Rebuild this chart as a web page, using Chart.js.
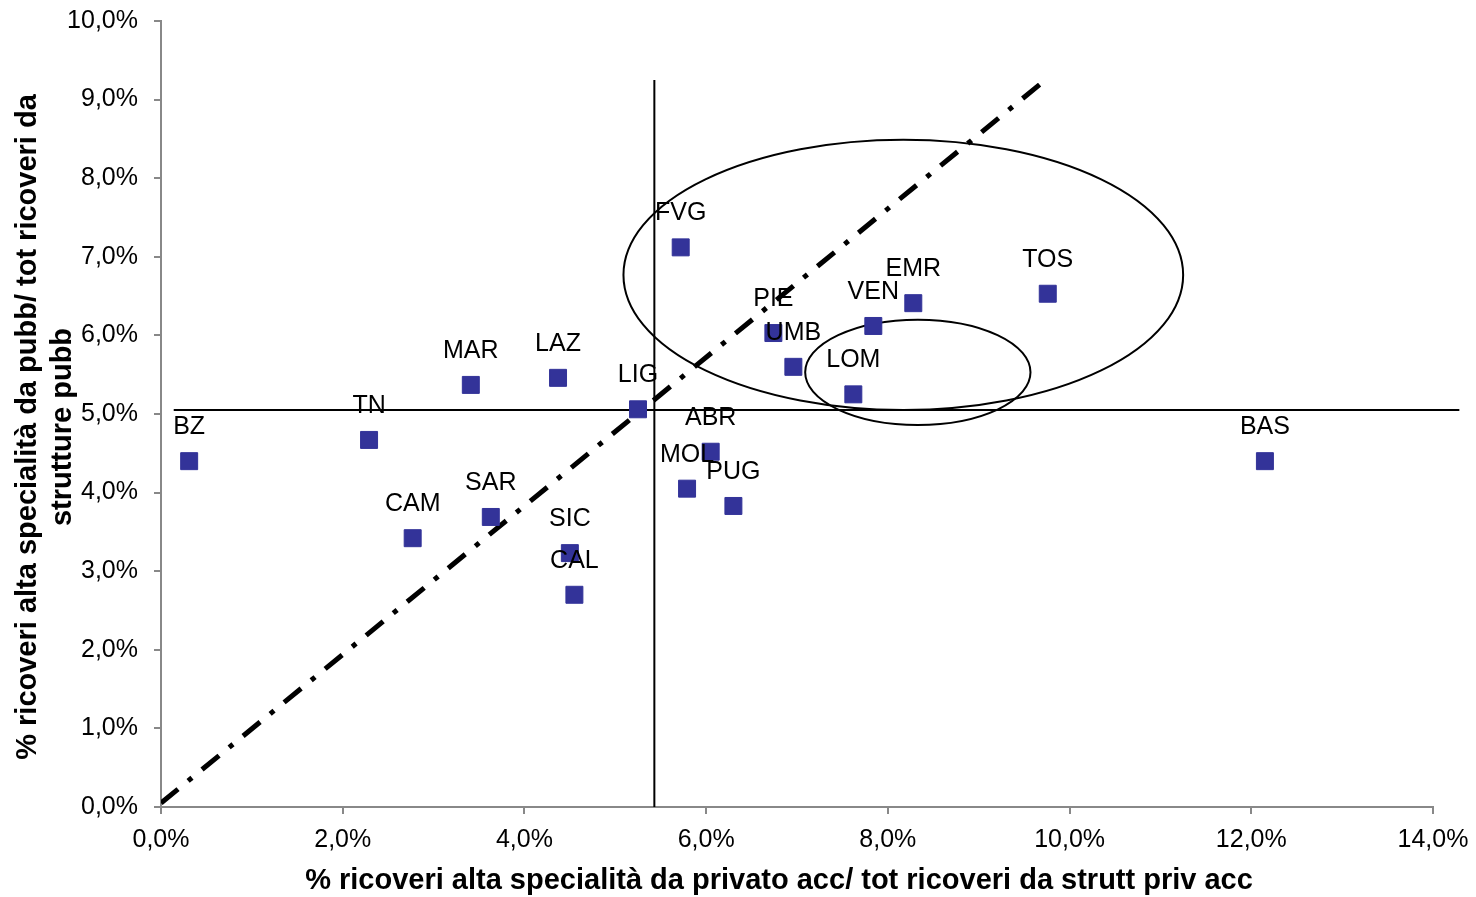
<!DOCTYPE html>
<html>
<head>
<meta charset="utf-8">
<script src="https://cdn.jsdelivr.net/npm/chart.js@4/dist/chart.umd.min.js"></script>
<style>
  html, body { margin: 0; padding: 0; background: #fff; }
  #wrap { width: 1476px; height: 897px; }
</style>
</head>
<body>
<div id="wrap"><canvas id="grafico"></canvas></div>
<script>
// Regioni e valori (in %)
const regioni = ["BZ", "TN", "MAR", "LAZ", "LIG", "CAM", "SAR", "SIC", "CAL", "FVG",
                 "PIE", "UMB", "VEN", "EMR", "LOM", "TOS", "ABR", "MOL", "PUG", "BAS"];
const privAcc = [0.31, 2.29, 3.41, 4.37, 5.25, 2.77, 3.63, 4.50, 4.55, 5.72,
                 6.74, 6.96, 7.84, 8.28, 7.62, 9.76, 6.05, 5.79, 6.30, 12.15];
const pubb =    [4.40, 4.67, 5.37, 5.46, 5.06, 3.42, 3.69, 3.23, 2.70, 7.12,
                 6.03, 5.60, 6.12, 6.41, 5.25, 6.53, 4.52, 4.05, 3.83, 4.40];

// Linee di riferimento
const diagX = [0.0, 9.67];
const diagY = [0.05, 9.19];
const vertX = [5.43, 5.43];
const vertY = [0.0, 9.25];
const orizX = [0.14, 14.29];
const orizY = [5.05, 5.05];

// Ellissi: centro x, centro y, semiasse x, semiasse y
const ellCx = [8.17, 8.33];
const ellCy = [6.77, 5.53];
const ellRx = [3.08, 1.24];
const ellRy = [1.72, 0.67];

// Titoli assi
const titoloX = "% ricoveri alta specialità da privato acc/ tot ricoveri da strutt priv acc";
const titoloY = ["% ricoveri alta specialità da pubb/ tot ricoveri da", "strutture pubb"];

const fmt = (v) => v.toFixed(1).replace(".", ",") + "%";
const toPts = (xs, ys) => xs.map((x, i) => ({ x: x, y: ys[i] }));
const FONT = "'Liberation Sans', Arial, sans-serif";

const ellissi = {
    id: "ellissi",
    beforeDatasetsDraw(chart) {
        const { ctx, scales } = chart;
        ctx.save();
        ctx.strokeStyle = "#000";
        ctx.lineWidth = 2;
        for (let i = 0; i < ellCx.length; i++) {
            const cx = scales.x.getPixelForValue(ellCx[i]);
            const cy = scales.y.getPixelForValue(ellCy[i]);
            const rx = scales.x.getPixelForValue(ellCx[i] + ellRx[i]) - cx;
            const ry = cy - scales.y.getPixelForValue(ellCy[i] + ellRy[i]);
            ctx.beginPath();
            ctx.ellipse(cx, cy, rx, ry, 0, 0, Math.PI * 2);
            ctx.stroke();
        }
        ctx.restore();
    }
};

const etichette = {
    id: "etichette",
    afterDatasetsDraw(chart) {
        const { ctx } = chart;
        const meta = chart.getDatasetMeta(0);
        ctx.save();
        ctx.font = "25px " + FONT;
        ctx.fillStyle = "#000";
        ctx.textAlign = "center";
        ctx.textBaseline = "middle";
        meta.data.forEach((p, i) => {
            ctx.fillText(regioni[i], p.x, p.y - 34);
        });
        ctx.restore();
    }
};

// titoli degli assi disegnati a mano (come nel grafico Excel, non centrati sull'area)
const titoliAssi = {
    id: "titoliAssi",
    afterDraw(chart) {
        const { ctx, chartArea } = chart;
        ctx.save();
        ctx.font = "bold 29px " + FONT;
        ctx.fillStyle = "#000";
        ctx.textAlign = "center";
        ctx.textBaseline = "middle";
        ctx.fillText(titoloX, (chartArea.left + chartArea.right) / 2 - 18, chart.height - 16);
        const cy = (chartArea.top + chartArea.bottom) / 2 + 13;
        ctx.translate(0, cy);
        ctx.rotate(-Math.PI / 2);
        ctx.fillText(titoloY[0], 0, 28);
        ctx.fillText(titoloY[1], 0, 63);
        ctx.restore();
    }
};

const tickFont = { family: FONT, size: 25 };

new Chart(document.getElementById("grafico"), {
    type: "scatter",
    data: {
        datasets: [
            {
                data: toPts(privAcc, pubb),
                pointStyle: "rect",
                pointRadius: 12,
                backgroundColor: "#333399",
                borderColor: "#333399",
                borderWidth: 1,
                order: 0
            },
            {
                type: "line",
                data: toPts(diagX, diagY),
                borderColor: "#000",
                borderWidth: 5,
                borderDash: [22, 13, 5, 13],
                pointRadius: 0,
                order: 1
            },
            {
                type: "line",
                data: toPts(vertX, vertY),
                borderColor: "#000",
                borderWidth: 2,
                pointRadius: 0,
                order: 2
            },
            {
                type: "line",
                data: toPts(orizX, orizY),
                borderColor: "#000",
                borderWidth: 2,
                pointRadius: 0,
                clip: false,
                order: 3
            }
        ]
    },
    options: {
        responsive: true,
        maintainAspectRatio: false,
        animation: false,
        layout: { padding: { top: 21, right: 43, left: 0, bottom: 0 } },
        plugins: { legend: { display: false }, tooltip: { enabled: false } },
        scales: {
            x: {
                type: "linear",
                min: 0,
                max: 14,
                afterFit: (s) => { s.height = 90; s.paddingLeft = 0; s.paddingRight = 0; },
                ticks: { stepSize: 2, callback: fmt, color: "#000", font: tickFont, padding: 11, maxRotation: 0 },
                grid: { drawOnChartArea: false, color: "#888", tickLength: 7, lineWidth: 2 },
                border: { color: "#888", width: 2 }
            },
            y: {
                type: "linear",
                min: 0,
                max: 10,
                afterFit: (s) => { s.width = 161; s.paddingTop = 0; s.paddingBottom = 0; },
                ticks: { stepSize: 1, callback: fmt, color: "#000", font: tickFont, padding: 16 },
                grid: { drawOnChartArea: false, color: "#888", tickLength: 7, lineWidth: 2 },
                border: { color: "#888", width: 2 }
            }
        }
    },
    plugins: [ellissi, etichette, titoliAssi]
});
</script>
</body>
</html>
